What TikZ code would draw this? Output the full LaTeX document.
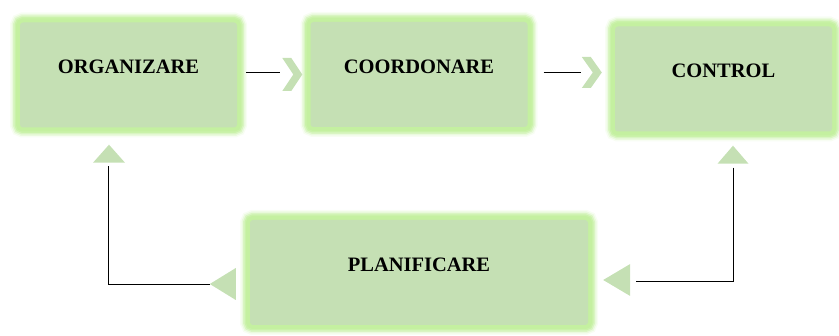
\documentclass[tikz,border=0pt]{standalone}
\usepackage{fontspec}
\setmainfont{Liberation Serif}
\usepackage{xcolor}

\definecolor{boxfill}{RGB}{197,224,180}
\definecolor{glowgreen}{RGB}{196,240,160}
\definecolor{tipfill}{RGB}{197,224,180}

\tikzset{
  stagebox/.style={fill=boxfill, rounded corners=3pt, inner sep=0pt,
    minimum width=217pt, minimum height=105pt,
    text height=13pt, text depth=15pt,
    font=\fontsize{20.5}{24}\selectfont\bfseries,
    preaction={draw=glowgreen, line width=20pt, opacity=0.12},
    preaction={draw=glowgreen, line width=17pt, opacity=0.25},
    preaction={draw=glowgreen, line width=14pt, opacity=0.45},
    preaction={draw=glowgreen, line width=11pt, opacity=0.7},
    preaction={draw=glowgreen, line width=8pt}},
  link/.style={draw=black, line width=0.8pt},
  tip/.style={fill=tipfill}
}

\begin{document}
\begin{tikzpicture}[x=1pt,y=-1pt]
    \useasboundingbox (0,0) rectangle (839,336);

    % boxes
    \node[stagebox] (org) at (128.5,75) {ORGANIZARE};
    \node[stagebox] (coo) at (419,74.5) {COORDONARE};
    \node[stagebox] (con) at (723.5,79) {CONTROL};
    \node[stagebox, minimum width=338pt] (pla) at (419,272.5) {PLANIFICARE};

    % top row arrows
    \draw[link] ([shift={(9,-3)}]org.east) -- ([shift={(-30,-2.5)}]coo.west);
    \fill[tip] ([shift={(-28,-16.5)}]coo.west) -- ++(9,0) -- ++(11,16.5)
        -- ++(-11,16.5) -- ++(-9,0) -- ++(11,-16.5) -- cycle;
    \draw[link] ([shift={(16,-2.5)}]coo.east) -- ([shift={(-34,-7)}]con.west);
    \fill[tip] ([shift={(-33,-22)}]con.west) -- ++(9,0) -- ++(11,15.5)
        -- ++(-11,15.5) -- ++(-9,0) -- ++(11,-15.5) -- cycle;

    % left loop
    \coordinate (pl) at ([shift={(-40,11.5)}]pla.west);
    \coordinate (ol) at ([shift={(-20.5,38)}]org.south);
    \draw[link] (pl) -| (ol);
    \fill[tip] ([shift={(-19.5,17)}]org.south) -- ++(16,18) -- ++(-32,0) -- cycle;
    \fill[tip] (pl) -- ++(26,-16) -- ++(0,32) -- cycle;

    % right loop
    \coordinate (cr) at ([shift={(9.5,36)}]con.south);
    \coordinate (pr) at ([shift={(48,8.5)}]pla.east);
    \draw[link] (cr) |- (pr);
    \fill[tip] ([shift={(9.5,14)}]con.south) -- ++(15.5,18) -- ++(-31,0) -- cycle;
    \fill[tip] ([shift={(15,7.5)}]pla.east) -- ++(27,-16) -- ++(0,32) -- cycle;

\end{tikzpicture}
\end{document}
